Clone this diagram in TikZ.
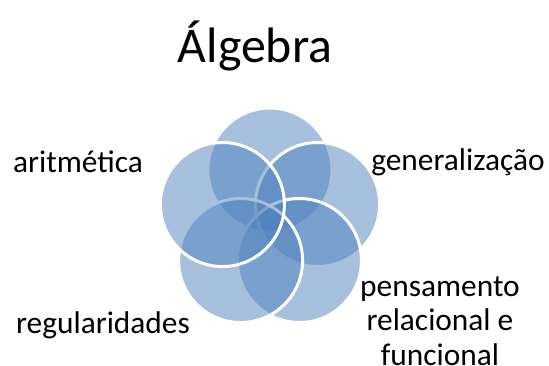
\documentclass[tikz,border=0pt]{standalone}
\usepackage{fontspec}
\setmainfont{Carlito}
\definecolor{petalblue}{HTML}{4F81BD}

\begin{document}
\begin{tikzpicture}[x = 1bp, y = -1bp,
  petal/.style = {circle, minimum size = 124bp, inner sep = 0pt, fill = petalblue, fill opacity = 0.5, draw = white, draw opacity = 1, line width = 3bp},
  lbl/.style = {font = \fontsize{31.5}{35}\selectfont, inner sep = 0pt}]
\useasboundingbox (0,0) rectangle (549,365);
\node[petal] (top) at (270,170) {};
\node[petal] (right) at (317.6,204.5) {};
\node[petal] (lowright) at (299.4,260.5) {};
\node[petal] (lowleft) at (240.6,260.5) {};
\node[petal] (left) at (222.4,204.5) {};
\node[inner sep = 0pt, anchor = base, font = \fontsize{50}{60}\selectfont] (title) at (255,62) {Álgebra};
\node[lbl, anchor = base] (arit) at (78,172) {aritmética};
\node[lbl, anchor = base] (gen) at (458,170) {generalização};
\node[lbl, anchor = base] (reg) at (103,333) {regularidades};
\node[lbl, anchor = north, align = center] (pens) at (440,276) {pensamento\\relacional e\\funcional};
\end{tikzpicture}
\end{document}
